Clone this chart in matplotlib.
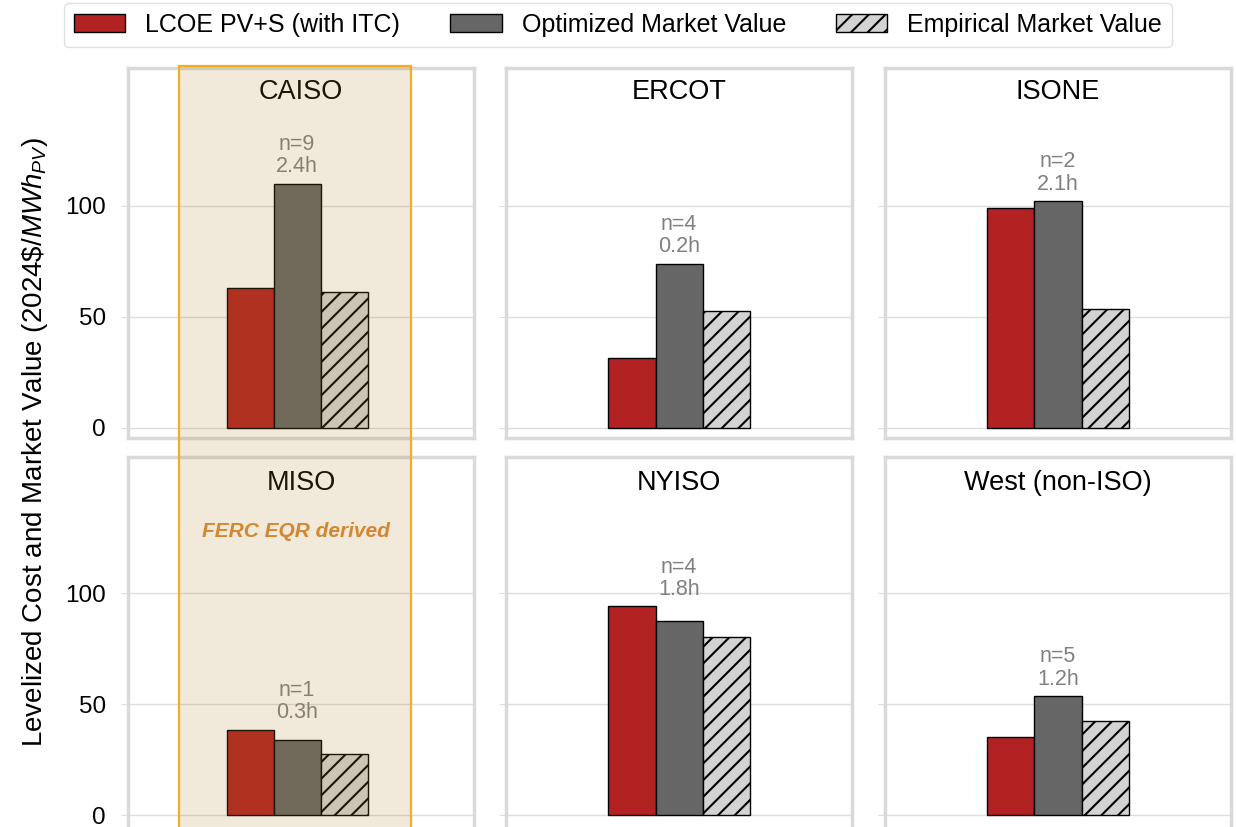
import numpy as np
import matplotlib.pyplot as plt
from matplotlib.patches import Patch, Rectangle

plt.rcParams['font.family'] = ['Liberation Sans', 'DejaVu Sans']
plt.rcParams['mathtext.fontset'] = 'custom'
plt.rcParams['mathtext.rm'] = 'Liberation Sans'
plt.rcParams['mathtext.it'] = 'Liberation Sans:italic'
plt.rcParams['hatch.linewidth'] = 1.5

# datos
regions = ['CAISO', 'ERCOT', 'ISONE', 'MISO', 'NYISO', 'West (non-ISO)']
lcoe = [63, 31.5, 99, 38.5, 94, 35]
opt_mv = [110, 74, 102, 34, 87.5, 53.5]
emp_mv = [61, 52.5, 53.5, 27.5, 80, 42.5]
n_proj = [9, 4, 2, 1, 4, 5]
dur_h = [2.4, 0.2, 2.1, 0.3, 1.8, 1.2]
series_names = ['LCOE PV+S (with ITC)', 'Optimized Market Value', 'Empirical Market Value']

red = '#b22222'
dgray = '#666666'
lgray = '#d3d3d3'
frame = '#d9d9d9'

fig = plt.figure(figsize=(12.36, 8.27), dpi=100)

lefts = [0.1036, 0.4094, 0.716]
bottoms = [0.4704, -0.0024]
heights = [0.4474, 0.4498]
ylims = [(-4.5, 162), (-6.3, 161.3)]
title_y = [0.934, 0.93]
w = 0.280
bw = 0.272
xs = np.array([-1, 0, 1]) * bw

axes = []
for i, reg in enumerate(regions):
    r, c = divmod(i, 3)
    ax = fig.add_axes([lefts[c], bottoms[r], w, heights[r]])
    axes.append(ax)
    vals = [lcoe[i], opt_mv[i], emp_mv[i]]
    ax.bar(xs[0], vals[0], bw, color=red, edgecolor='black', linewidth=1, zorder=3)
    ax.bar(xs[1], vals[1], bw, color=dgray, edgecolor='black', linewidth=1, zorder=3)
    ax.bar(xs[2], vals[2], bw, color=lgray, edgecolor='black', linewidth=1, hatch='//', zorder=3)
    ax.annotate(f'n={n_proj[i]}\n{dur_h[i]}h', (0, max(vals)), xytext=(0, 4.5),
                textcoords='offset points', ha='center', va='bottom',
                fontsize=15.5, color='#808080', linespacing=1.1, zorder=4)
    ax.text(0.5, title_y[r], reg, transform=ax.transAxes, ha='center', va='center', fontsize=19.5)
    # la primera columna esta algo corrida a la izquierda en el original
    if c == 0:
        ax.set_xlim(-0.977, 1.023)
    else:
        ax.set_xlim(-1.0, 1.0)
    ax.set_ylim(*ylims[r])
    ax.set_yticks([0, 50, 100])
    ax.set_xticks([])
    ax.grid(axis='y', color='#dddddd', linewidth=1, zorder=0)
    ax.tick_params(axis='y', length=5, color='#dddddd', labelsize=17.5, pad=11)
    if c != 0:
        ax.tick_params(axis='y', labelleft=False)
    for s in ax.spines.values():
        s.set_color(frame)
        s.set_linewidth(2.5)

axes[3].text(0.485, 0.80, 'FERC EQR derived', transform=axes[3].transAxes, ha='center',
             va='center', fontsize=15, fontweight='bold', fontstyle='italic', color='#dc8a35')

# banda resaltada sobre CAISO y MISO
fig.patches.append(Rectangle((0.1448, -0.01), 0.1877, 0.9302, transform=fig.transFigure,
                             facecolor=(173/255, 125/255, 31/255, 0.17),
                             edgecolor='#f4ae1e', linewidth=1.6, zorder=10))

handles = [Patch(facecolor=red, edgecolor='black'),
           Patch(facecolor=dgray, edgecolor='black'),
           Patch(facecolor=lgray, edgecolor='black', hatch='//')]
fig.legend(handles, series_names, loc='center', bbox_to_anchor=(0.5, 0.97), ncol=3,
           fontsize=18, frameon=True, edgecolor='#d9d9d9', fancybox=True,
           handlelength=2.05, handleheight=0.75, columnspacing=2.0, borderpad=0.4)

fig.text(0.028, 0.466, r'Levelized Cost and Market Value (2024\$/$MWh_{PV}$)',
         rotation=90, ha='center', va='center', fontsize=20)

fig.savefig('out.png', dpi=100)
